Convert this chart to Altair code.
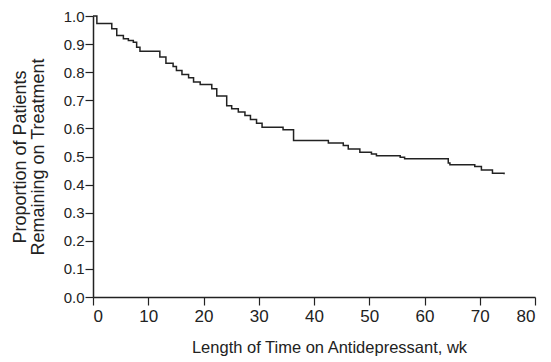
import altair as alt
import pandas as pd

weeks = [0, 0.7, 3.4, 4.3, 5.5, 6.4, 7.3, 7.9, 8.5, 12.1, 13.2, 14.5, 15.1, 16.1, 17.3, 18.2,
         19.4, 21.5, 22.4, 24.2, 25.1, 26.3, 27.5, 28.5, 29.6, 30.6, 34.4, 36.3, 42.6, 45.3,
         46.2, 48.3, 50.4, 51.3, 55.6, 56.4, 64.3, 64.6, 69.1, 70.3, 72.3, 74.4]
proportion = [1.0, 0.973, 0.955, 0.931, 0.919, 0.913, 0.907, 0.889, 0.875, 0.854, 0.832, 0.820,
              0.806, 0.792, 0.780, 0.765, 0.756, 0.741, 0.715, 0.681, 0.670, 0.658, 0.646, 0.632,
              0.618, 0.604, 0.595, 0.557, 0.548, 0.539, 0.527, 0.515, 0.509, 0.503, 0.497, 0.492,
              0.477, 0.471, 0.464, 0.452, 0.440, 0.437]

x_ticks = [0, 10, 20, 30, 40, 50, 60, 70, 80]
y_ticks = [0.0, 0.1, 0.2, 0.3, 0.4, 0.5, 0.6, 0.7, 0.8, 0.9, 1.0]

df = pd.DataFrame({"week": weeks, "prop": proportion})

FONT = "Liberation Sans, Arial, sans-serif"

chart = alt.Chart(df).mark_line(
    interpolate="step-after", color="#222222", strokeWidth=1.5
).encode(
    x=alt.X("week:Q", scale=alt.Scale(domain=[0, 80], nice=False),
            axis=alt.Axis(values=x_ticks, title="Length of Time on Antidepressant, wk",
                          grid=False, format="d", titleFontSize=16.5,
                          titleX=236, titleY=42, titleAlign="center",
                          labelFontSize=17, tickSize=8, labelPadding=3)),
    y=alt.Y("prop:Q", scale=alt.Scale(domain=[0, 1], nice=False),
            axis=alt.Axis(values=y_ticks, format=".1f",
                          title=["Proportion of Patients", "Remaining on Treatment"],
                          grid=False, titlePadding=16, titleFontSize=18, titleLineHeight=18,
                          labelFontSize=15, tickSize=8, labelPadding=1)),
).properties(
    width=442, height=281,
    autosize=alt.AutoSizeParams(type="none"),
    padding={"left": 85, "top": 8, "right": 8, "bottom": 62},
).configure_view(stroke=None).configure_axis(
    domainColor="#222222", domainWidth=1.5, tickColor="#222222", tickWidth=1.2,
    labelFont=FONT, labelColor="#222222",
    titleFont=FONT, titleFontWeight="normal", titleColor="#222222",
)

chart.save("out.html", embed_options={"renderer": "svg", "actions": False})
